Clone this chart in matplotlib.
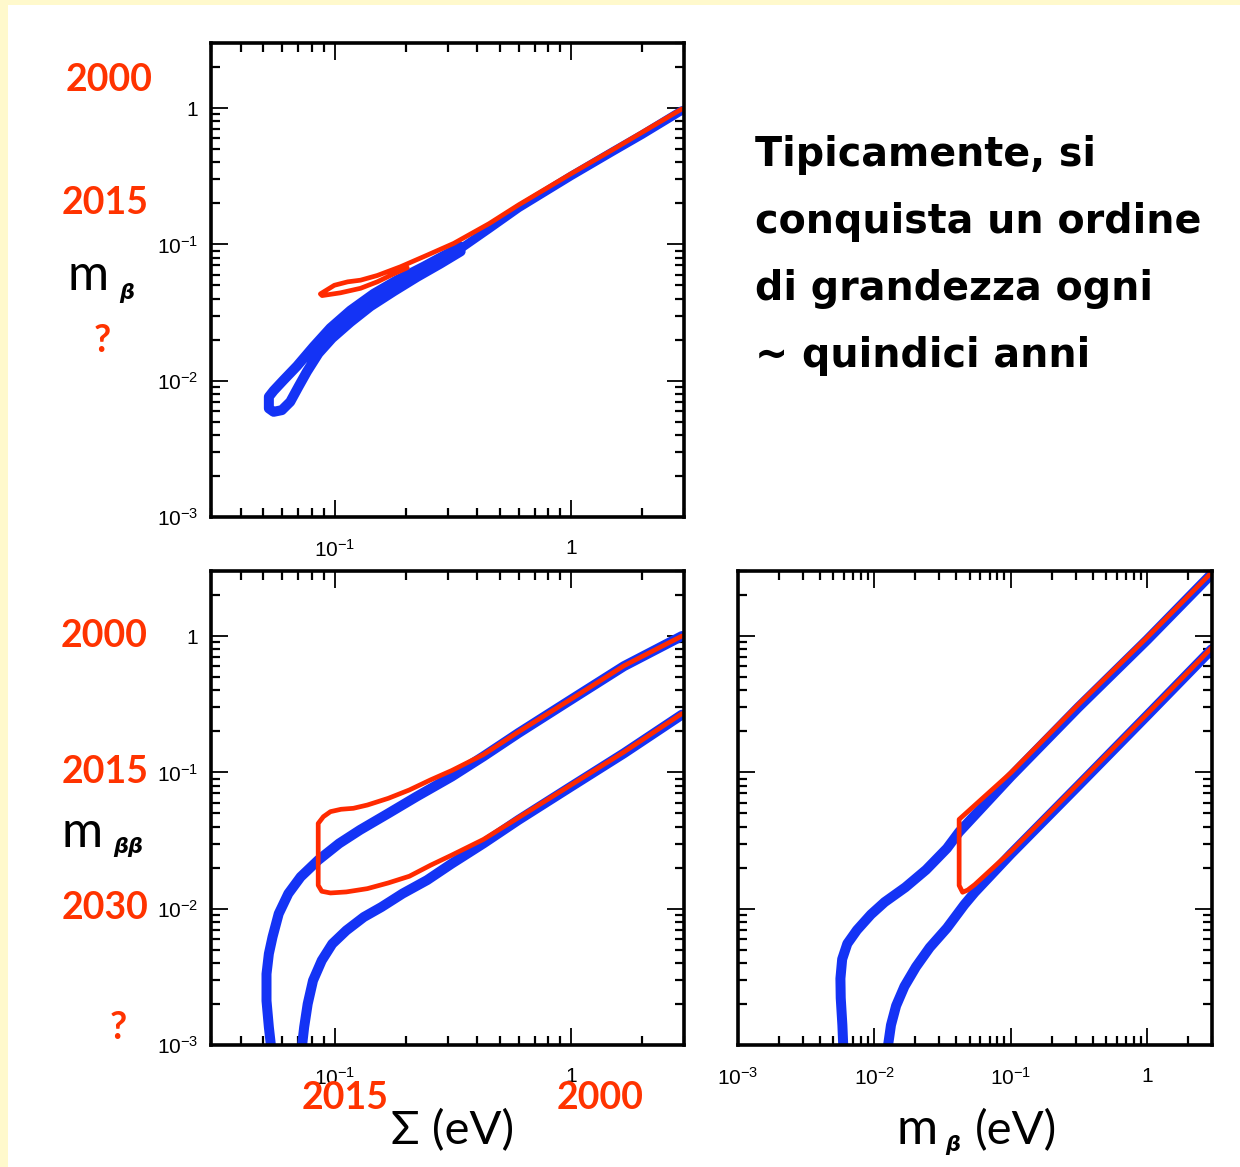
import numpy as np
import matplotlib.pyplot as plt
from matplotlib.ticker import FixedLocator, LogLocator, FuncFormatter, NullFormatter

plt.rcParams['font.family'] = ['Liberation Sans', 'DejaVu Sans']

W, H = 1240, 1167

# --- m_beta vs Sigma (top) ---
sum_nh_up = [0.0527, 0.0552, 0.0608, 0.0693, 0.0815, 0.0959, 0.1166, 0.1463, 0.1837, 0.238, 0.341]
mb_nh_up = [0.00762, 0.00844, 0.0101, 0.0128, 0.0178, 0.0243, 0.0327, 0.0434, 0.0546, 0.0686, 0.0962]
sum_nh_lo = [0.0527, 0.0552, 0.0598, 0.0649, 0.0703, 0.0763, 0.0855, 0.0975, 0.1166, 0.1416,
             0.1778, 0.2234, 0.2805, 0.341]
mb_nh_lo = [0.00626, 0.00591, 0.00608, 0.0070, 0.00903, 0.01164, 0.0159, 0.0205, 0.0269, 0.0351,
            0.0453, 0.0578, 0.0724, 0.0888]
sum_diag_blue = [0.341, 0.45, 0.6, 1.0, 1.5, 2.0, 2.94]
mb_diag_blue = [0.093, 0.130, 0.185, 0.318, 0.48, 0.64, 0.96]

sum_ih_up = [0.0870, 0.0997, 0.1135, 0.1286, 0.1514, 0.1898, 0.2463, 0.319, 0.45, 0.6, 1.0, 1.5, 2.0, 2.94]
mb_ih_up = [0.0433, 0.0501, 0.0531, 0.0546, 0.0591, 0.0685, 0.0834, 0.1017, 0.142, 0.195, 0.33, 0.495,
            0.665, 0.985]
sum_ih_lo = [0.0885, 0.1057, 0.1286, 0.1514, 0.1778, 0.2027]
mb_ih_lo = [0.0421, 0.0441, 0.0476, 0.0531, 0.0608, 0.0673]

# --- m_betabeta vs Sigma (bottom left) ---
sum_bb1 = [0.0537, 0.0527, 0.0515, 0.0515, 0.0527, 0.0546, 0.0580, 0.0637, 0.0718, 0.0852, 0.1045,
           0.128, 0.1686, 0.222, 0.3125, 0.4256, 0.598, 1.0, 1.671, 2.94]
mbb1 = [0.00101, 0.00135, 0.00211, 0.00332, 0.00467, 0.00619, 0.00918, 0.0129, 0.0171, 0.0227, 0.0301,
        0.0378, 0.0500, 0.0664, 0.0931, 0.131, 0.194, 0.342, 0.601, 1.0]
sum_bb2 = [0.0729, 0.0743, 0.0769, 0.0810, 0.0882, 0.0977, 0.112, 0.1328, 0.1577, 0.1937, 0.246,
           0.3125, 0.4256, 0.598, 1.0, 1.671, 2.94]
mbb2 = [0.00101, 0.00135, 0.0020, 0.00297, 0.00417, 0.00552, 0.00692, 0.00868, 0.01028, 0.0129, 0.0162,
        0.0214, 0.0301, 0.0447, 0.0787, 0.138, 0.265]

sum_red_bb = [2.94, 1.671, 1.0, 0.598, 0.4256, 0.3125, 0.2545, 0.207, 0.1686, 0.1375, 0.120, 0.1064,
              0.0960, 0.0896, 0.0852, 0.0852, 0.0882, 0.0960, 0.112, 0.1375, 0.1686, 0.207, 0.2545,
              0.3125, 0.4256, 0.598, 1.0, 1.671, 2.94]
mbb_red = [1.0, 0.605, 0.345, 0.198, 0.135, 0.1031, 0.0881, 0.0743, 0.0645, 0.0576, 0.0545, 0.0536,
           0.0515, 0.0473, 0.0422, 0.01485, 0.01342, 0.01304, 0.01327, 0.01403, 0.01545, 0.0173,
           0.02084, 0.0247, 0.0322, 0.0465, 0.081, 0.141, 0.27]

# --- m_betabeta vs m_beta (bottom right) ---
mb_r1 = [0.00591, 0.00583, 0.00567, 0.00564, 0.00581, 0.00634, 0.00746, 0.00944, 0.0119, 0.0169,
         0.0240, 0.0341, 0.0419, 0.1, 0.314, 1.0, 2.985]
mbb_r1 = [0.00101, 0.0014, 0.00221, 0.00307, 0.00426, 0.00554, 0.00697, 0.00906, 0.01117, 0.01435,
          0.0193, 0.0277, 0.0365, 0.0930, 0.300, 0.935, 2.86]
mb_r2 = [0.01264, 0.01325, 0.01445, 0.01663, 0.0202, 0.0255, 0.0341, 0.0457, 0.0545, 0.1, 0.314, 1.0, 2.985]
mbb_r2 = [0.00101, 0.0014, 0.00194, 0.00269, 0.00374, 0.00519, 0.00721, 0.01068, 0.01318, 0.0251,
          0.080, 0.2606, 0.80]
mb_red_r = [2.985, 1.0, 0.314, 0.1, 0.0419, 0.0419, 0.0444, 0.0484, 0.0545, 0.1, 0.314, 1.0, 2.985]
mbb_red_r = [2.93, 0.975, 0.315, 0.099, 0.0452, 0.0148, 0.0132, 0.0137, 0.0150, 0.0262, 0.083, 0.268, 0.82]

BLUE = '#1433F5'
RED = '#FF2A00'
YEAR = '#FF3300'

fig = plt.figure(figsize=(W / 100, H / 100), dpi=100, facecolor='#FFF9CC')
fig.patches.append(plt.Rectangle((8 / W, 0), 1, 1 - 5 / H, transform=fig.transFigure,
                                 facecolor='white', edgecolor='none', zorder=-10))


def px(x, y):
    return x / W, 1 - y / H


def fmt(v, pos):
    if abs(v - 1) < 1e-9:
        return '1'
    return r'$\mathregular{10^{%d}}$' % round(np.log10(v))


def setup(ax, xmin, ylabels=True):
    ax.set_xscale('log')
    ax.set_yscale('log')
    ax.set_xlim(xmin, 3)
    ax.set_ylim(1e-3, 3)
    for s in ax.spines.values():
        s.set_linewidth(2.6)
    ax.xaxis.set_major_locator(FixedLocator([1e-3, 1e-2, 1e-1, 1]))
    ax.yaxis.set_major_locator(FixedLocator([1e-3, 1e-2, 1e-1, 1]))
    ax.xaxis.set_minor_locator(LogLocator(base=10, subs=np.arange(2, 10), numticks=20))
    ax.yaxis.set_minor_locator(LogLocator(base=10, subs=np.arange(2, 10), numticks=20))
    ax.xaxis.set_major_formatter(FuncFormatter(fmt))
    ax.yaxis.set_major_formatter(FuncFormatter(fmt) if ylabels else NullFormatter())
    ax.xaxis.set_minor_formatter(NullFormatter())
    ax.yaxis.set_minor_formatter(NullFormatter())
    ax.tick_params(which='both', direction='in', top=True, right=True, labelsize=15)
    ax.tick_params(which='major', length=12, width=1.3)
    ax.tick_params(which='minor', length=6.5, width=1.6)
    ax.tick_params(axis='x', which='major', pad=16)
    ax.tick_params(axis='y', which='major', pad=9)


line_kw = dict(solid_capstyle='round', solid_joinstyle='round')
BW, RW = 7.2, 3.4

ax1 = fig.add_axes([211 / W, 1 - 517 / H, 473 / W, 474 / H])
setup(ax1, 0.03)
ax1.fill(np.r_[sum_nh_up[4:], sum_nh_lo[6:][::-1]], np.r_[mb_nh_up[4:], mb_nh_lo[6:][::-1]],
         color=BLUE, lw=0)
ax1.plot(sum_nh_lo[::-1] + sum_nh_up, mb_nh_lo[::-1] + mb_nh_up, color=BLUE, lw=BW, **line_kw)
ax1.plot(sum_diag_blue, mb_diag_blue, color=BLUE, lw=BW - 1, **line_kw)
ax1.plot(sum_ih_lo[::-1] + sum_ih_up, mb_ih_lo[::-1] + mb_ih_up, color=RED, lw=RW, **line_kw)

ax2 = fig.add_axes([211 / W, 1 - 1045 / H, 473 / W, 474 / H])
setup(ax2, 0.03)
ax2.plot(sum_bb1, mbb1, color=BLUE, lw=BW, **line_kw)
ax2.plot(sum_bb2, mbb2, color=BLUE, lw=BW, **line_kw)
ax2.plot(sum_red_bb, mbb_red, color=RED, lw=RW, **line_kw)

ax3 = fig.add_axes([738 / W, 1 - 1045 / H, 474 / W, 474 / H])
setup(ax3, 1e-3, ylabels=False)
ax3.plot(mb_r1, mbb_r1, color=BLUE, lw=BW, **line_kw)
ax3.plot(mb_r2, mbb_r2, color=BLUE, lw=BW, **line_kw)
ax3.plot(mb_red_r, mbb_red_r, color=RED, lw=RW, **line_kw)

# axis titles
lab = dict(family=['Lato', 'DejaVu Sans'], color='black')
greek = dict(family='DejaVu Sans', weight='bold', style='italic', color='black', fontsize=15)
fig.text(*px(88, 290), 'm', fontsize=36, ha='center', va='baseline', **lab)
fig.text(*px(127, 299), 'β', ha='center', va='baseline', **greek)
fig.text(*px(82, 847), 'm', fontsize=36, ha='center', va='baseline', **lab)
fig.text(*px(128, 853), 'ββ', ha='center', va='baseline', **greek)
fig.text(*px(453, 1144), 'Σ (eV)', fontsize=34, ha='center', va='baseline', **lab)
fig.text(*px(917, 1144), 'm', fontsize=36, ha='center', va='baseline', **lab)
fig.text(*px(953, 1151), 'β', ha='center', va='baseline', **greek)
fig.text(*px(1016, 1144), '(eV)', fontsize=34, ha='center', va='baseline', **lab)

# years
yr = dict(family=['Lato', 'DejaVu Sans'], weight='bold', color=YEAR, fontsize=27,
          ha='center', va='center')
for x, y, s in [(109, 80, '2000'), (105, 203, '2015'), (102, 341, '?'),
                (104, 636, '2000'), (105, 772, '2015'), (105, 908, '2030'), (118, 1028, '?'),
                (345, 1098, '2015'), (600, 1098, '2000')]:
    fig.text(*px(x, y), s, **yr)

# side note
note = ['Tipicamente, si', 'conquista un ordine', 'di grandezza ogni', '~ quindici anni']
for i, s in enumerate(note):
    fig.text(*px(755, 166 + 67 * i), s, family='DejaVu Sans', weight='bold', fontsize=28.5,
             ha='left', va='baseline', color='black')

fig.savefig('out.png', dpi=100, facecolor=fig.get_facecolor())
